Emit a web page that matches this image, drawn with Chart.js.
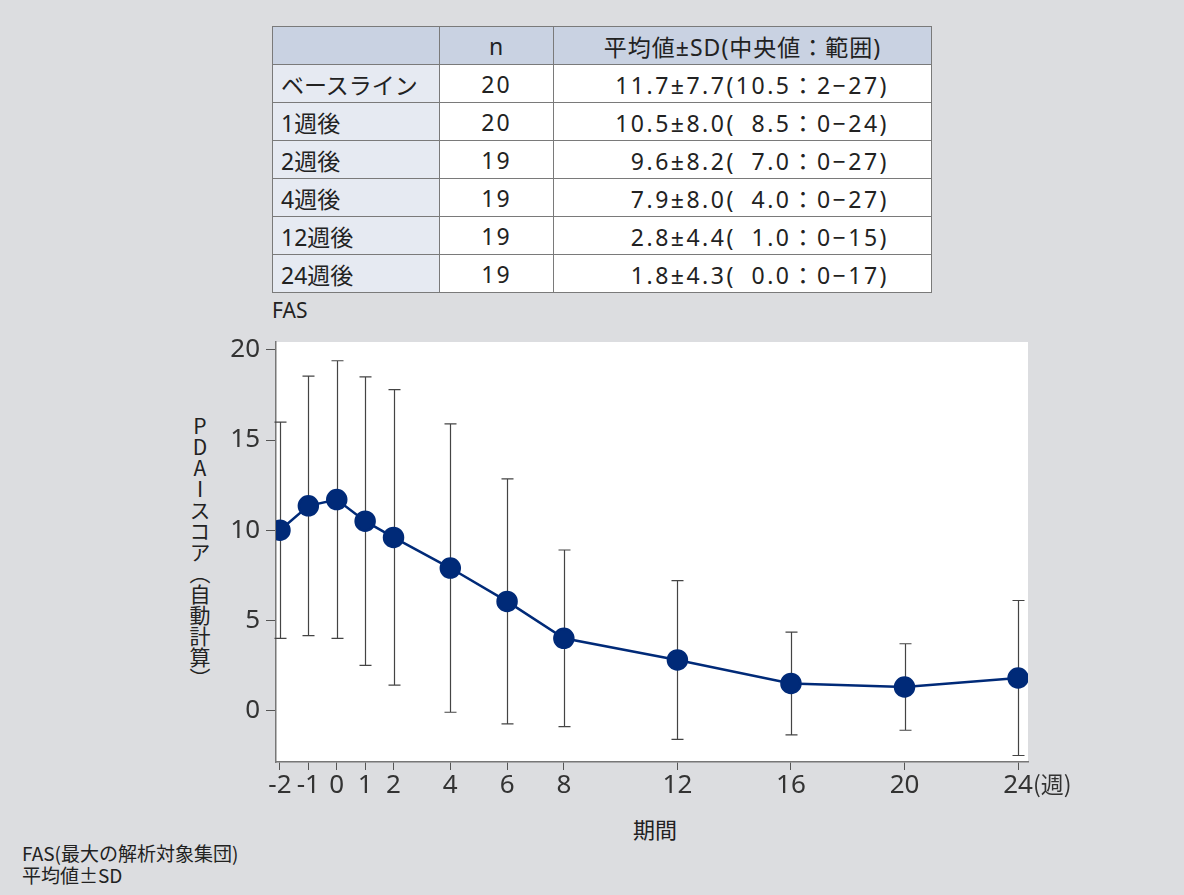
<!DOCTYPE html>
<html>
<head>
<meta charset="utf-8">
<script src="https://cdn.jsdelivr.net/npm/chart.js@4.4.1/dist/chart.umd.min.js"></script>
<style>
  body { margin: 0; background: #dcdde0; width: 1184px; height: 895px; position: relative; overflow: hidden;
         font-family: "Noto Sans", "Noto Sans CJK JP", sans-serif; color: #222; }
  table { position: absolute; left: 272px; top: 26px; border-collapse: collapse; font-size: 23px; }
  td, th { border: 1px solid #7a7a7a; height: 37px; padding: 0; font-weight: normal; }
  th { background: #c9d2e2; letter-spacing: 1px; }
  td.lab { background: #e6eaf2; text-align: left; padding-left: 8px; width: 158px; }
  td.n { background: #fff; text-align: center; width: 113px; letter-spacing: 2px; }
  td.v { background: #fff; text-align: right; padding-right: 42px; width: 335px; white-space: pre; letter-spacing: 2.5px; }
  #fas { position: absolute; left: 272px; top: 296px; font-size: 21px; }
  #ytitle { position: absolute; left: 189px; top: 416px; font-size: 21px; writing-mode: vertical-rl;
            text-orientation: mixed; line-height: 22px; color: #222; font-family: "Noto Sans CJK JP", sans-serif; }
  #ytitle span { text-orientation: upright; }
  #xtitle { position: absolute; left: 633px; top: 812px; font-size: 22px; font-family: "Noto Sans CJK JP", sans-serif; }
  #note { position: absolute; left: 22px; top: 842px; font-size: 19px; line-height: 22px; font-family: "Noto Sans CJK JP", sans-serif; }
  #wrap { position: absolute; left: 0; top: 330px; width: 1184px; height: 480px; }
</style>
</head>
<body>
<table>
  <tr><th style="width:166px"></th><th>n</th><th>平均値±SD(中央値：範囲)</th></tr>
  <tr><td class="lab">ベースライン</td><td class="n">20</td><td class="v">11.7±7.7(10.5：2−27)</td></tr>
  <tr><td class="lab">1週後</td><td class="n">20</td><td class="v">10.5±8.0(&#8199;8.5：0−24)</td></tr>
  <tr><td class="lab">2週後</td><td class="n">19</td><td class="v">9.6±8.2(&#8199;7.0：0−27)</td></tr>
  <tr><td class="lab">4週後</td><td class="n">19</td><td class="v">7.9±8.0(&#8199;4.0：0−27)</td></tr>
  <tr><td class="lab">12週後</td><td class="n">19</td><td class="v">2.8±4.4(&#8199;1.0：0−15)</td></tr>
  <tr><td class="lab">24週後</td><td class="n">19</td><td class="v">1.8±4.3(&#8199;0.0：0−17)</td></tr>
</table>
<div id="fas">FAS</div>
<div id="ytitle"><span>PDAI</span>スコア（自動計算）</div>
<div id="xtitle">期間</div>
<div id="note">FAS(最大の解析対象集団)<br>平均値±SD</div>
<div id="wrap"><canvas id="c"></canvas></div>
<script>
var weeks = [-2, -1, 0, 1, 2, 4, 6, 8, 12, 16, 20, 24];
var means = [10.0, 11.35, 11.7, 10.5, 9.6, 7.9, 6.05, 4.0, 2.8, 1.5, 1.3, 1.8];
var sds = [6.0, 7.2, 7.7, 8.0, 8.2, 8.0, 6.8, 4.9, 4.4, 2.85, 2.4, 4.3];
var xTicks = [-2, -1, 0, 1, 2, 4, 6, 8, 12, 16, 20, 24];
var yTicks = [0, 5, 10, 15, 20];

var tickFont = { family: '"Noto Sans", sans-serif', size: 26 };

var errorBars = {
  id: 'errorBars',
  beforeDraw: function(chart) {
    var a = chart.chartArea, ctx = chart.ctx;
    ctx.save();
    ctx.fillStyle = '#fff';
    ctx.fillRect(a.left, a.top, a.right - a.left, a.bottom - a.top);
    ctx.restore();
  },
  beforeDatasetsDraw: function(chart) {
    var ctx = chart.ctx, xs = chart.scales.x, ys = chart.scales.y;
    ctx.save();
    ctx.strokeStyle = '#444';
    ctx.lineWidth = 1.2;
    for (var i = 0; i < weeks.length; i++) {
      var px = Math.round(xs.getPixelForValue(weeks[i])) + 0.5;
      var top = ys.getPixelForValue(means[i] + sds[i]);
      var bot = ys.getPixelForValue(means[i] - sds[i]);
      ctx.beginPath();
      ctx.moveTo(px, top); ctx.lineTo(px, bot);
      ctx.moveTo(px - 6, top); ctx.lineTo(px + 6, top);
      ctx.moveTo(px - 6, bot); ctx.lineTo(px + 6, bot);
      ctx.stroke();
    }
    ctx.restore();
  },
  afterDraw: function(chart) {
    // unit suffix after the last x tick label
    var ctx = chart.ctx, xs = chart.scales.x;
    ctx.save();
    ctx.fillStyle = '#333';
    ctx.textBaseline = 'middle';
    ctx.font = '26px "Noto Sans", sans-serif';
    var w = ctx.measureText('24').width;
    ctx.font = '23px "Noto Sans CJK JP", sans-serif';
    ctx.fillText('(週)', xs.getPixelForValue(24) + w / 2, xs.top + 22);
    ctx.restore();
  }
};

new Chart(document.getElementById('c'), {
  type: 'line',
  data: {
    datasets: [{
      data: weeks.map(function(w, i) { return { x: w, y: means[i] }; }),
      borderColor: '#002a78',
      backgroundColor: '#002a78',
      borderWidth: 2.5,
      pointRadius: 9.5,
      pointHoverRadius: 9.5,
      tension: 0
    }]
  },
  options: {
    responsive: true,
    maintainAspectRatio: false,
    animation: false,
    layout: { padding: { left: 0, right: 156, top: 7, bottom: 0 } },
    plugins: { legend: { display: false }, tooltip: { enabled: false } },
    scales: {
      x: {
        type: 'linear',
        min: -2.14,
        max: 24.35,
        afterBuildTicks: function(s) { s.ticks = xTicks.map(function(v) { return { value: v }; }); },
        afterFit: function(s) { s.height = 48; s.paddingLeft = 0; s.paddingRight = 0; },
        grid: { drawOnChartArea: false, tickLength: 8, color: '#555' },
        border: { color: '#777', width: 1.5 },
        ticks: { font: tickFont, color: '#333', padding: 0, maxRotation: 0, autoSkip: false }
      },
      y: {
        min: -2.86,
        max: 20.44,
        afterBuildTicks: function(s) { s.ticks = yTicks.map(function(v) { return { value: v }; }); },
        afterFit: function(s) { s.width = 276; s.paddingTop = 0; s.paddingBottom = 0; },
        grid: { drawOnChartArea: false, tickLength: 10, color: '#555' },
        border: { color: '#777', width: 1.5 },
        ticks: { font: tickFont, color: '#333', padding: 6 }
      }
    }
  },
  plugins: [errorBars]
});
</script>
</body>
</html>
